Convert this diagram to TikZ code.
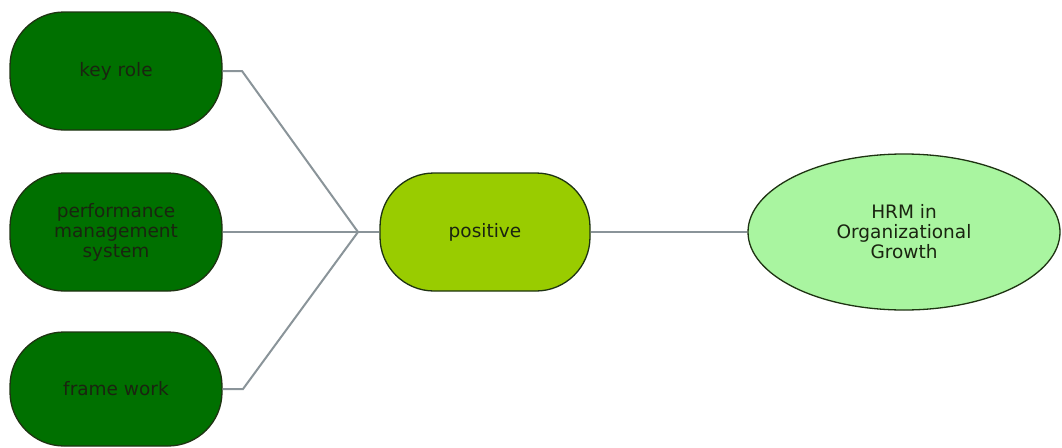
\documentclass[tikz,border=0pt]{standalone}
\usepackage{fontspec}
\setmainfont{DejaVu Sans}
\usetikzlibrary{shapes.geometric}
\definecolor{darkbox}{HTML}{007000}
\definecolor{limebox}{HTML}{99CC00}
\definecolor{lightell}{HTML}{A9F5A0}
\definecolor{edge}{HTML}{1E3312}
\definecolor{wire}{HTML}{8A9499}
\definecolor{txt}{HTML}{1A2410}
\tikzset{
  rbox/.style={draw=edge, line width=1.3pt, rounded corners=54pt, minimum width=212pt, minimum height=118pt, inner sep=0pt, align=center, text=txt, font=\fontsize{18.5}{20}\selectfont},
  darkfill/.style={fill=darkbox},
  limefill/.style={fill=limebox},
  ell/.style={ellipse, draw=edge, line width=1.3pt, fill=lightell, minimum width=312pt, minimum height=156pt, inner sep=0pt, align=center, text=txt, font=\fontsize{18.5}{20}\selectfont},
  wireline/.style={draw=wire, line width=2pt}
}
\begin{document}
\begin{tikzpicture}[x=1pt,y=-1pt]
\useasboundingbox (0,0) rectangle (1062,447);
\node[rbox,darkfill] (key) at (116,71) {key role};
\node[rbox,darkfill] (perf) at (116,232) {performance\\management\\system};
\node[rbox,darkfill,minimum height=114pt] (frame) at (116,389) {frame work};
\node[rbox,limefill,minimum width=210pt] (pos) at (485,232) {positive};
\node[ell] (hrm) at (904,232) {HRM in\\Organizational\\Growth};
\coordinate (j) at (358,232);
\coordinate (ek) at (242,71);
\coordinate (ef) at (243,389);
\draw[wireline] (key.east) -- (ek) -- (j);
\draw[wireline] (perf.east) -- (j);
\draw[wireline] (frame.east) -- (ef) -- (j);
\draw[wireline] (j) -- (pos.west);
\draw[wireline] (pos.east) -- (hrm.west);
\end{tikzpicture}
\end{document}
